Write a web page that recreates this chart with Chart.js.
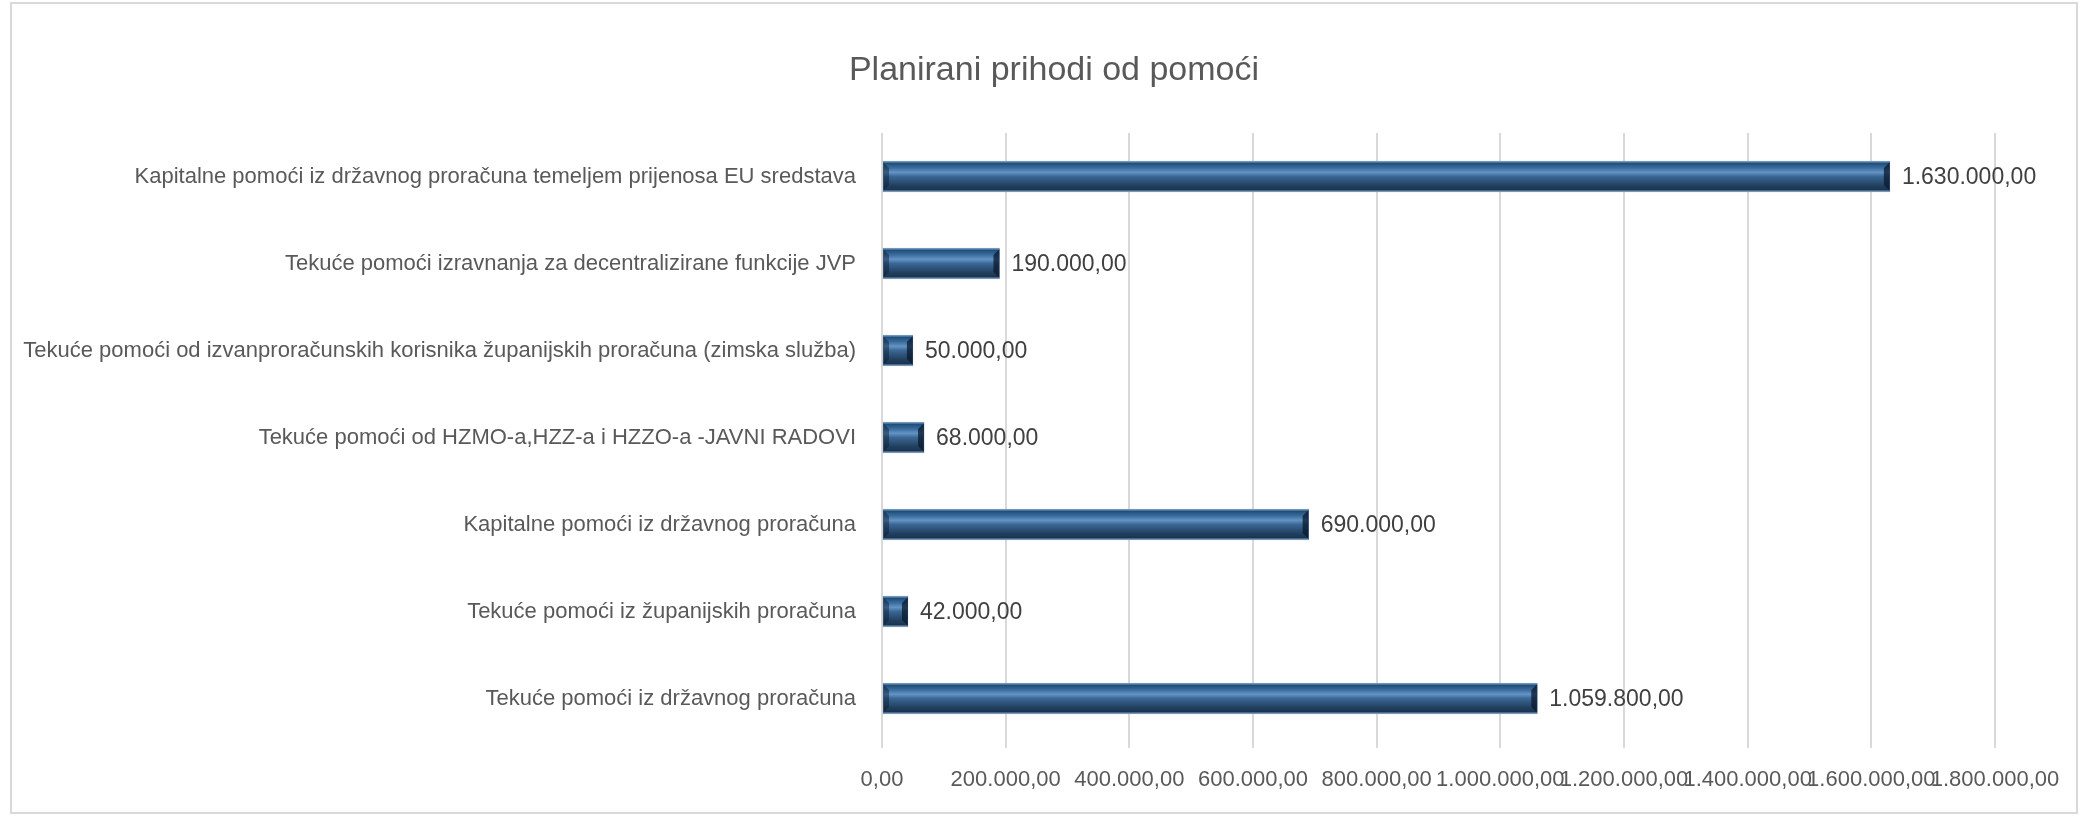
<!DOCTYPE html>
<html>
<head>
<meta charset="utf-8">
<script src="https://cdn.jsdelivr.net/npm/chart.js@4/dist/chart.umd.min.js"></script>
<style>
  body { margin: 0; background: #fff; }
  #wrap { position: relative; width: 2087px; height: 816px; }
  #frame { position: absolute; left: 10px; top: 2px; width: 2064px; height: 808px; border: 2px solid #d9d9d9; pointer-events: none; }
</style>
</head>
<body>
<div id="wrap">
  <canvas id="chart" width="2087" height="816"></canvas>
  <div id="frame"></div>
</div>
<script>
// chart data
let categories = [
    'Kapitalne pomoći iz državnog proračuna temeljem prijenosa EU sredstava',
    'Tekuće pomoći izravnanja za decentralizirane funkcije JVP',
    'Tekuće pomoći od izvanproračunskih korisnika županijskih proračuna (zimska služba)',
    'Tekuće pomoći od HZMO-a,HZZ-a i HZZO-a -JAVNI RADOVI',
    'Kapitalne pomoći iz državnog proračuna',
    'Tekuće pomoći iz županijskih proračuna',
    'Tekuće pomoći iz državnog proračuna'
];
let values = [1630000, 190000, 50000, 68000, 690000, 42000, 1059800];
let axisMin = 0, axisMax = 1800000, axisStep = 200000;
let chartTitle = 'Planirani prihodi od pomoći';

// 1630000 -> "1.630.000,00"
let fmt = (v) => {
    let s = Math.round(v).toString().replace(/\B(?=(\d{3})+(?!\d))/g, '.');
    return s + ',00';
};

let font = 'Liberation Sans';

// bevel-looking fill for each bar
let barFill = (ctx) => {
    let chart = ctx.chart;
    let y = chart.scales.y;
    if (!y || ctx.dataIndex === undefined) return '#2c5d8f';
    let cy = y.getPixelForValue(ctx.dataIndex);
    if (!isFinite(cy)) return '#2c5d8f';
    let h = 15;
    let g = chart.ctx.createLinearGradient(0, cy - h, 0, cy + h);
    g.addColorStop(0, '#7fa3c8');
    g.addColorStop(0.06, '#1f4e79');
    g.addColorStop(0.22, '#3d6e9f');
    g.addColorStop(0.36, '#6494c5');
    g.addColorStop(0.5, '#3a6794');
    g.addColorStop(0.8, '#21405f');
    g.addColorStop(0.94, '#1a344f');
    g.addColorStop(1, '#8aa7c4');
    return g;
};

let valueLabels = {
    id: 'valueLabels',
    afterDatasetsDraw(chart) {
        let c = chart.ctx;
        let meta = chart.getDatasetMeta(0);
        c.save();
        meta.data.forEach((bar, i) => {
            // dark bevelled ends
            let top = bar.y - bar.height / 2, bot = bar.y + bar.height / 2;
            c.fillStyle = 'rgba(10,25,45,0.75)';
            c.beginPath();
            c.moveTo(bar.x, top + 1); c.lineTo(bar.x - 6, top + 7); c.lineTo(bar.x - 6, bot - 7); c.lineTo(bar.x, bot - 1);
            c.closePath(); c.fill();
            c.fillStyle = 'rgba(10,25,45,0.45)';
            c.beginPath();
            c.moveTo(bar.base, top + 1); c.lineTo(bar.base + 6, top + 7); c.lineTo(bar.base + 6, bot - 7); c.lineTo(bar.base, bot - 1);
            c.closePath(); c.fill();

            c.fillStyle = '#404040';
            c.font = '23px "' + font + '"';
            c.textAlign = 'left';
            c.textBaseline = 'middle';
            c.fillText(fmt(values[i]), bar.x + 12, bar.y + 1);
        });
        c.restore();
    }
};

// title sits a bit right of the canvas centre in the original, so draw it here
let titleText = {
    id: 'titleText',
    afterDraw(chart) {
        let c = chart.ctx;
        c.save();
        c.fillStyle = '#595959';
        c.font = '34px "' + font + '"';
        c.textAlign = 'center';
        c.textBaseline = 'middle';
        c.fillText(chartTitle, 1054, 71);
        c.restore();
    }
};

new Chart(document.querySelector('#chart'), {
    type: 'bar',
    data: {
        labels: categories,
        datasets: [{
            data: values,
            backgroundColor: barFill,
            borderColor: '#6f93b8',
            borderWidth: 1,
            borderSkipped: false,
            barThickness: 31
        }]
    },
    options: {
        indexAxis: 'y',
        responsive: false,
        animation: false,
        layout: { padding: { left: 0, right: 92, top: 133, bottom: 0 } },
        plugins: {
            legend: { display: false },
            tooltip: { enabled: false },
            title: { display: false }
        },
        scales: {
            x: {
                min: axisMin,
                max: axisMax,
                ticks: {
                    stepSize: axisStep,
                    color: '#595959',
                    font: { family: font, size: 22 },
                    padding: 19,
                    maxRotation: 0,
                    autoSkip: false,
                    callback: (v) => fmt(v)
                },
                grid: { color: '#d9d9d9', lineWidth: 2, tickLength: 6 },
                border: { display: false },
                afterFit: (s) => { s.height = 74; }
            },
            y: {
                ticks: {
                    color: '#595959',
                    font: { family: font, size: 22 },
                    padding: 18
                },
                grid: { display: false },
                border: { display: false },
                afterFit: (s) => { s.width = 882; }
            }
        }
    },
    plugins: [valueLabels, titleText]
});
</script>
</body>
</html>
